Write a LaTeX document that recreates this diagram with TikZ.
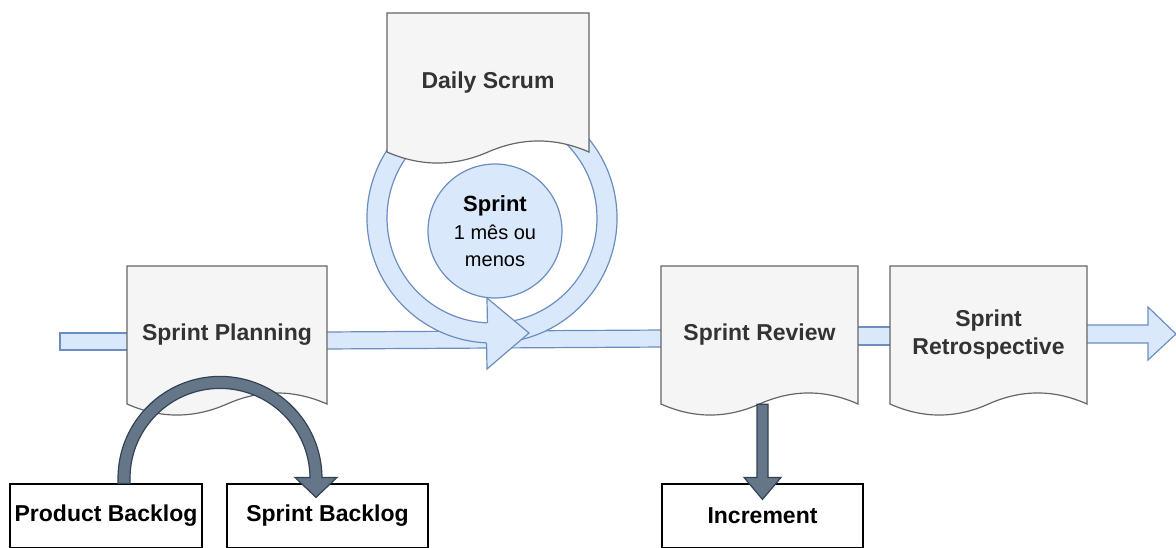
\documentclass[tikz,border=0pt]{standalone}
\usepackage{fontspec}
\setmainfont{Liberation Sans}
\usetikzlibrary{calc,backgrounds}

\definecolor{bandfill}{HTML}{DAE8FC}
\definecolor{bandline}{HTML}{6C8EBF}
\definecolor{docfill}{HTML}{F5F5F5}
\definecolor{docline}{HTML}{666666}
\definecolor{doctext}{HTML}{333333}
\definecolor{darkfill}{HTML}{647687}
\definecolor{darkline}{HTML}{314354}

\tikzset{
  docpath/.style={fill=docfill, draw=docline, line width=1.2},
  doclabel/.style={inner sep=0, align=center, text=doctext,
    font=\bfseries\fontsize{23}{28}\selectfont},
  band/.style={fill=bandfill, draw=bandline, line width=1.2, line join=miter},
  bandedge/.style={draw=bandline, line width=1.2},
  bandbody/.style={fill=bandfill},
  darkarrow/.style={fill=darkfill, draw=darkline, line width=1.2, line join=miter},
  itembox/.style={draw=black, fill=white, line width=1.2, minimum height=64,
    inner sep=0, font=\bfseries\fontsize{23}{28}\selectfont},
  sprintcircle/.style={circle, fill=bandfill, draw=bandline, line width=1.2,
    minimum size=134, inner sep=0, align=center,
    font=\fontsize{20}{27}\selectfont},
}

% document shape: name, left, right, top, bottom of the straight sides, label
\newcommand\docnode[6]{%
  \path[docpath] (#2,#4) -- (#3,#4) -- (#3,#5)
    .. controls ({#3-(#3-#2)/6},#5-14.7) and ({(#2+#3)/2+(#3-#2)/6},#5-14.7) .. ({(#2+#3)/2},#5)
    .. controls ({(#2+#3)/2-(#3-#2)/6},#5+14.7) and ({#2+(#3-#2)/6},#5+14.7) .. (#2,#5) -- cycle;
  \node[doclabel, minimum width=#3-#2, minimum height=#5-#4] (#1)
    at ({(#2+#3)/2},{(#4+#5)/2}) {#6};
}

\begin{document}
\begin{tikzpicture}[x=1pt, y=-1pt]
\useasboundingbox (0,0) rectangle (1176,547);
\clip (0,0) rectangle (1176,547);

% events of the sprint
\docnode{plan}{127}{327}{266}{404}{Sprint Planning}
\docnode{daily}{387}{589}{13}{152}{Daily Scrum}
\docnode{review}{661}{858}{266}{404}{Sprint Review}
\docnode{retro}{890}{1087}{266}{404}{Sprint\\Retrospective}

% artefacts
\node[itembox, minimum width=192] (prod) at (106,516) {Product Backlog};
\node[itembox, minimum width=201] (sback) at (327.5,516) {Sprint Backlog};
\node[itembox, minimum width=201] (incr) at (762.5,516) {Increment};

% the sprint itself
\node[sprintcircle] (sprint) at (495,231)
  {{\bfseries\fontsize{22}{27}\selectfont Sprint}\\[1pt]1 mês ou\\menos};
\coordinate (ringc) at ($(sprint)+(-3,-13)$);

\begin{pgfonlayer}{background}
  % timeline
  \coordinate (in) at (60,341.5);
  \coordinate (out) at (1176,334);
  \draw[band] ($(in)+(0,-8.5)$) rectangle ($(plan.west |- in)+(3,8.5)$);
  \draw[band] ($(plan.east)+(-3,-3)$) -- ($(review.west)+(3,-5)$)
    -- ($(review.west)+(3,12)$) -- ($(plan.east)+(-3,14)$) -- cycle;
  \draw[band] ($(review.east)+(-3,-8)$) rectangle ($(retro.west)+(3,10)$);
  \draw[band] ($(retro.east)+(-3,-10)$) -- ($(out)+(-28,-9)$) -- ($(out)+(-28,-27)$)
    -- (out) -- ($(out)+(-28,26)$) -- ($(out)+(-28,9)$) -- ($(retro.east)+(-3,8)$) -- cycle;

  % daily loop around the sprint
  \fill[bandbody] ($(ringc)+(83:125)$) arc[start angle=83, end angle=-267.5, radius=125]
    -- ($(ringc)+(92.5:105)$) arc[start angle=-267.5, end angle=83, radius=105] -- cycle;
  \draw[bandedge] ($(ringc)+(83:125)$) arc[start angle=83, end angle=-267.5, radius=125];
  \draw[bandedge] ($(ringc)+(83:105)$) arc[start angle=83, end angle=-267.5, radius=105];
  \fill[bandbody] ($(ringc)+(92.5:125)$) -- ($(ringc)+(-5,151)$) -- ($(ringc)+(37,115)$)
    -- ($(ringc)+(-5,80)$) -- ($(ringc)+(92.5:105)$) -- cycle;
  \draw[bandedge, line join=miter] ($(ringc)+(92.5:125)$) -- ($(ringc)+(-5,151)$)
    -- ($(ringc)+(37,115)$) -- ($(ringc)+(-5,80)$) -- ($(ringc)+(92.5:105)$);
\end{pgfonlayer}

% review delivers the increment
\draw[darkarrow] (review.south -| {$(incr.north)+(-5.5,0)$}) -- ($(incr.north)+(-5.5,-6)$)
  -- ++(-13,0) -- ($(incr.north)+(0,16)$) -- ($(incr.north)+(18.5,-6)$)
  -- ++(-13,0) -- (review.south -| {$(incr.north)+(5.5,0)$}) -- cycle;

% planning moves items from the product backlog into the sprint backlog
\coordinate (pbtop) at ($(prod.north)+(18,0)$);
\coordinate (sbtip) at ($(sback.north)+(-11.5,14)$);
\draw[darkarrow] ($(pbtop)+(-6,0)$) -- ++(0,-5)
  arc[start angle=180, end angle=360, radius=102]
  -- ++(0,-1) -- ++(15,0) -- (sbtip) -- ++(-21,-20) -- ++(15,0) -- ++(0,1)
  arc[start angle=360, end angle=180, radius=90] -- ++(0,5) -- cycle;
\end{tikzpicture}
\end{document}
